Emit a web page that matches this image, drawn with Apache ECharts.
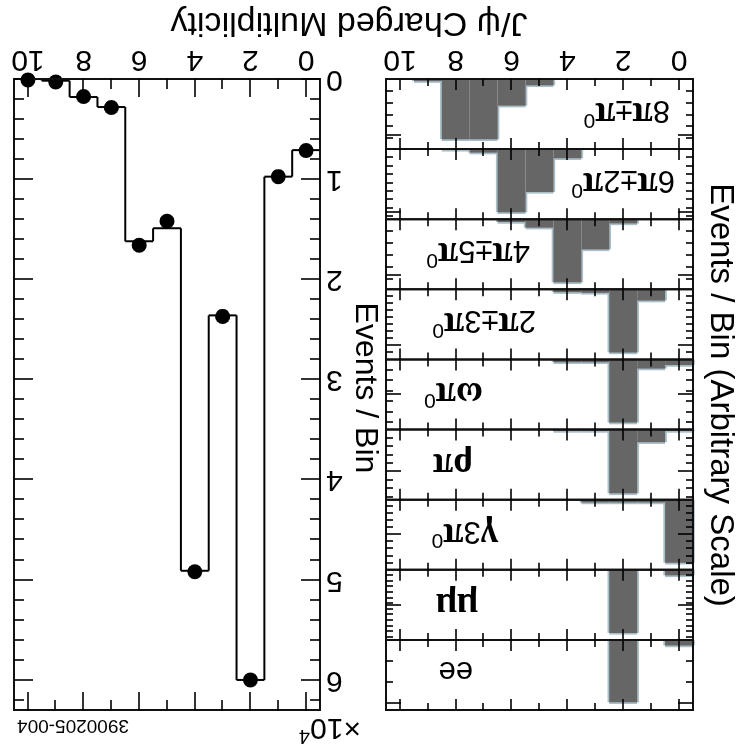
<!DOCTYPE html>
<html><head><meta charset="utf-8">
<script src="https://cdn.jsdelivr.net/npm/echarts@6/dist/echarts.min.js"></script>
<style>
html,body{margin:0;padding:0;background:#fff;overflow:hidden}
#c{width:746px;height:755px;transform:rotate(180deg);transform-origin:50% 50%;}
</style>
</head><body><div id="c"></div>
<script>
// ---------------- data ----------------
const multiplicity = [0,1,2,3,4,5,6,7,8,9,10];
const xTickLabels = [0,2,4,6,8,10];
const yTickLabels = [0,1,2,3,4,5,6];
// total J/psi charged multiplicity (x10^4 events / bin)
const dataEvents = [0.715,0.975,6.00,2.37,4.92,1.42,1.66,0.285,0.175,0.03,0.01];
const mcEvents   = [0.71,0.975,6.00,2.36,4.91,1.49,1.62,0.28,0.18,0.017,0.0];
// exclusive channels (arbitrary scale), top to bottom
const channelNames = ['ee','μμ','γ3π0','ρπ','ωπ0','2π±3π0','4π±5π0','6π±2π0','8π±π0'];
const chEE    = [0.08,0,0.89,0,0,0,0,0,0,0,0];
const chMuMu  = [0.08,0,0.90,0,0,0,0,0,0,0,0];
const chG3Pi  = [0.90,0.04,0.04,0.04,0,0,0,0,0,0,0];
const chRhoPi = [0.02,0.18,0.91,0.02,0.02,0,0,0,0,0,0];
const chOmPi  = [0.08,0.13,0.90,0.04,0.04,0,0,0,0,0,0];
const ch2pi3  = [0,0.16,0.90,0.05,0.04,0,0,0,0,0,0];
const ch4pi5  = [0,0,0.06,0.43,0.90,0.12,0.04,0,0,0,0];
const ch6pi2  = [0,0,0,0,0.13,0.61,0.90,0.05,0.01,0,0];
const ch8pi1  = [0,0,0,0,0,0.09,0.38,0.86,0.86,0.03,0];
const channelValues = [chEE,chMuMu,chG3Pi,chRhoPi,chOmPi,ch2pi3,ch4pi5,ch6pi2,ch8pi1];
// y tick pattern of each small panel (arbitrary scales)
const panelMinorStep = [0.3,0.08,0.1,0.12,0.15,0.1,0.17,0.12,0.17];
const panelMajorTick = [0.9,0.5,0.5,0.6,0.5,0.8,0.8,0.9,0.8];

// ---------------- layout ----------------
const FONT = 'Liberation Sans';
const oddTicks = multiplicity.filter(v => v % 2 === 1);
const evenTicks = multiplicity.filter(v => v % 2 === 0);
const grids = [], xAxes = [], yAxes = [], series = [], graphics = [];

function addX(g, pos, ticks, len, labels){
  xAxes.push({type:'value', gridIndex:g, min:-0.5, max:10.5, position:pos, z:11,
    axisLine:{show:false, onZero:false}, splitLine:{show:false},
    axisTick:{show:true, inside:true, length:len, customValues:ticks, lineStyle:{color:'#000', width:1.6}},
    axisLabel:{show:!!labels, customValues:labels||[], margin:5, fontSize:30, color:'#000', fontFamily:FONT}});
  return xAxes.length-1;
}
function addY(g, pos, min, max, ticks, len, labels){
  yAxes.push({type:'value', gridIndex:g, min:min, max:max, position:pos, z:11,
    axisLine:{show:false, onZero:false}, splitLine:{show:false},
    axisTick:{show:true, inside:true, length:len, customValues:ticks, lineStyle:{color:'#000', width:1.6}},
    axisLabel:{show:!!labels, customValues:labels||[], margin:6, fontSize:30, color:'#000', fontFamily:FONT}});
  return yAxes.length-1;
}
function range(step, max){ const a=[]; for(let v=step; v<max-1e-9; v+=step) a.push(+v.toFixed(4)); return a; }

function stepRender(color, width, skipZero){
  return function(params, api){
    const m = api.value(0), v = api.value(1), prev = api.value(2);
    const children = [];
    if (!(skipZero && v === 0 && prev === 0)) {
      const a = api.coord([m-0.5, prev]), b = api.coord([m-0.5, v]);
      children.push({type:'line', shape:{x1:a[0],y1:a[1],x2:b[0],y2:b[1]}, style:{stroke:color, lineWidth:width}});
    }
    if (!(skipZero && v === 0)) {
      const b = api.coord([m-0.5, v]), c = api.coord([m+0.5, v]);
      children.push({type:'line', shape:{x1:b[0],y1:b[1],x2:c[0],y2:c[1]}, style:{stroke:color, lineWidth:width}});
    }
    return {type:'group', children};
  };
}
function barRender(params, api){
  const m = api.value(0), v = api.value(1);
  if (v <= 0) return;
  const p0 = api.coord([m-0.5, 0]), p1 = api.coord([m+0.5, v]);
  return {type:'rect', shape:{x:p0[0], y:p1[1], width:p1[0]-p0[0], height:p0[1]-p1[1]}, style:{fill:'#666666'}};
}
function stepData(vals){ return vals.map((v,i)=>[multiplicity[i], v, i>0 ? vals[i-1] : 0]); }

// a panel = main grid (frame, major ticks, data) + overlay grid (minor ticks)
function addPanel(rect, ymax, majorY, minorY, xLen, yLen, withXLabels, yLabels){
  const g = grids.length;
  grids.push(Object.assign({show:true, borderWidth:2, borderColor:'#111', z:10}, rect));
  grids.push(Object.assign({show:false}, rect));
  const xi = addX(g,'bottom',evenTicks,xLen[0],withXLabels ? xTickLabels : null);
  addX(g,'top',evenTicks,xLen[0]);
  const yi = addY(g,'left',0,ymax,majorY,yLen[0],yLabels);
  addY(g,'right',0,ymax,majorY,yLen[0]);
  addX(g+1,'bottom',oddTicks,xLen[1]);
  addX(g+1,'top',oddTicks,xLen[1]);
  addY(g+1,'left',0,ymax,minorY,yLen[1]);
  addY(g+1,'right',0,ymax,minorY,yLen[1]);
  return {xi, yi};
}

// ---- total multiplicity panel ----
const big = addPanel({left:426, top:45, width:306, height:631}, 6.3, yTickLabels,
  range(0.2,6.3).filter(v=>Math.abs(v-Math.round(v))>1e-6), [18,10], [19,10], true, yTickLabels);
series.push({type:'custom', xAxisIndex:big.xi, yAxisIndex:big.yi, renderItem:stepRender('#000',2,false),
  data:stepData(mcEvents), z:3, silent:true});
series.push({type:'scatter', xAxisIndex:big.xi, yAxisIndex:big.yi, symbol:'circle', symbolSize:15,
  itemStyle:{color:'#000', opacity:1}, data:multiplicity.map((m,i)=>[m, dataEvents[i]]), z:5, silent:true});

// ---- channel panels ----
const PT = 45, PH = 631/9, PL = 53, PW = 307;
channelValues.forEach((vals, i) => {
  const last = i === channelValues.length-1;
  const minor = range(panelMinorStep[i],1).filter(v=>Math.abs(v-panelMajorTick[i])>0.02);
  const p = addPanel({left:PL, top:PT+i*PH, width:PW, height:PH}, 1, [panelMajorTick[i]], minor,
    [11,7], [15,7], last, null);
  series.push({type:'custom', xAxisIndex:p.xi, yAxisIndex:p.yi, renderItem:stepRender('#a9bec6',3.5,true),
    data:stepData(vals), z:2, silent:true});
  series.push({type:'custom', xAxisIndex:p.xi, yAxisIndex:p.yi, renderItem:barRender,
    data:stepData(vals), z:3, silent:true});
});

// ---- texts ----
function richLabel(s){
  let out='';
  for (let i=0;i<s.length;i++){
    const c=s[i];
    if (/[πμγρω]/.test(c)) out += '{g|'+c+'}';
    else if (c==='0' && i>0 && s[i-1]==='π') out += '{s|0}';
    else out += '{n|'+c+'}';
  }
  return out;
}
const labelX = [273,268,248,273,263,210,216,71,76];
channelNames.forEach((name,i)=>{
  graphics.push({type:'text', x:labelX[i], y:PT+(i+0.5)*PH+2, z:20, silent:true,
    style:{text:richLabel(name), verticalAlign:'middle', align:'left',
      rich:{
        n:{fontFamily:FONT, fontSize:31, fill:'#000', lineHeight:36, verticalAlign:'bottom'},
        g:{fontFamily:'Liberation Serif', fontWeight:'bold', fontSize:37, fill:'#000', lineHeight:36, verticalAlign:'bottom'},
        s:{fontFamily:FONT, fontSize:21, fill:'#000', lineHeight:36, verticalAlign:'top'}
      }}});
});
graphics.push({type:'text', x:397, y:733, silent:true,
  style:{text:'J/ψ Charged Multiplicity', font:'34px "Liberation Sans"', fill:'#000', align:'center', verticalAlign:'middle'}});
graphics.push({type:'text', x:26, y:360, rotation:Math.PI/2, silent:true,
  style:{text:'Events / Bin (Arbitrary Scale)', font:'33px "Liberation Sans"', fill:'#000', align:'center', verticalAlign:'middle'}});
graphics.push({type:'text', x:381, y:367, rotation:Math.PI/2, silent:true,
  style:{text:'Events / Bin', font:'32px "Liberation Sans"', fill:'#000', align:'center', verticalAlign:'middle'}});
graphics.push({type:'text', x:385, y:26, silent:true,
  style:{text:'{a|×10}{b|4}', verticalAlign:'middle', align:'left',
    rich:{a:{fontFamily:FONT, fontSize:30, fill:'#000', lineHeight:34, verticalAlign:'bottom'},
          b:{fontFamily:FONT, fontSize:20, fill:'#000', lineHeight:34, verticalAlign:'top'}}}});
graphics.push({type:'text', x:729, y:30, silent:true,
  style:{text:'3900205-004', font:'19px "Liberation Sans"', fill:'#000', align:'right', verticalAlign:'middle'}});

const chart = echarts.init(document.getElementById('c'), null, {renderer:'canvas'});
chart.setOption({
  animation:false,
  backgroundColor:'#fff',
  grid:grids, xAxis:xAxes, yAxis:yAxes, series:series, graphic:graphics
});
</script>
</body></html>
